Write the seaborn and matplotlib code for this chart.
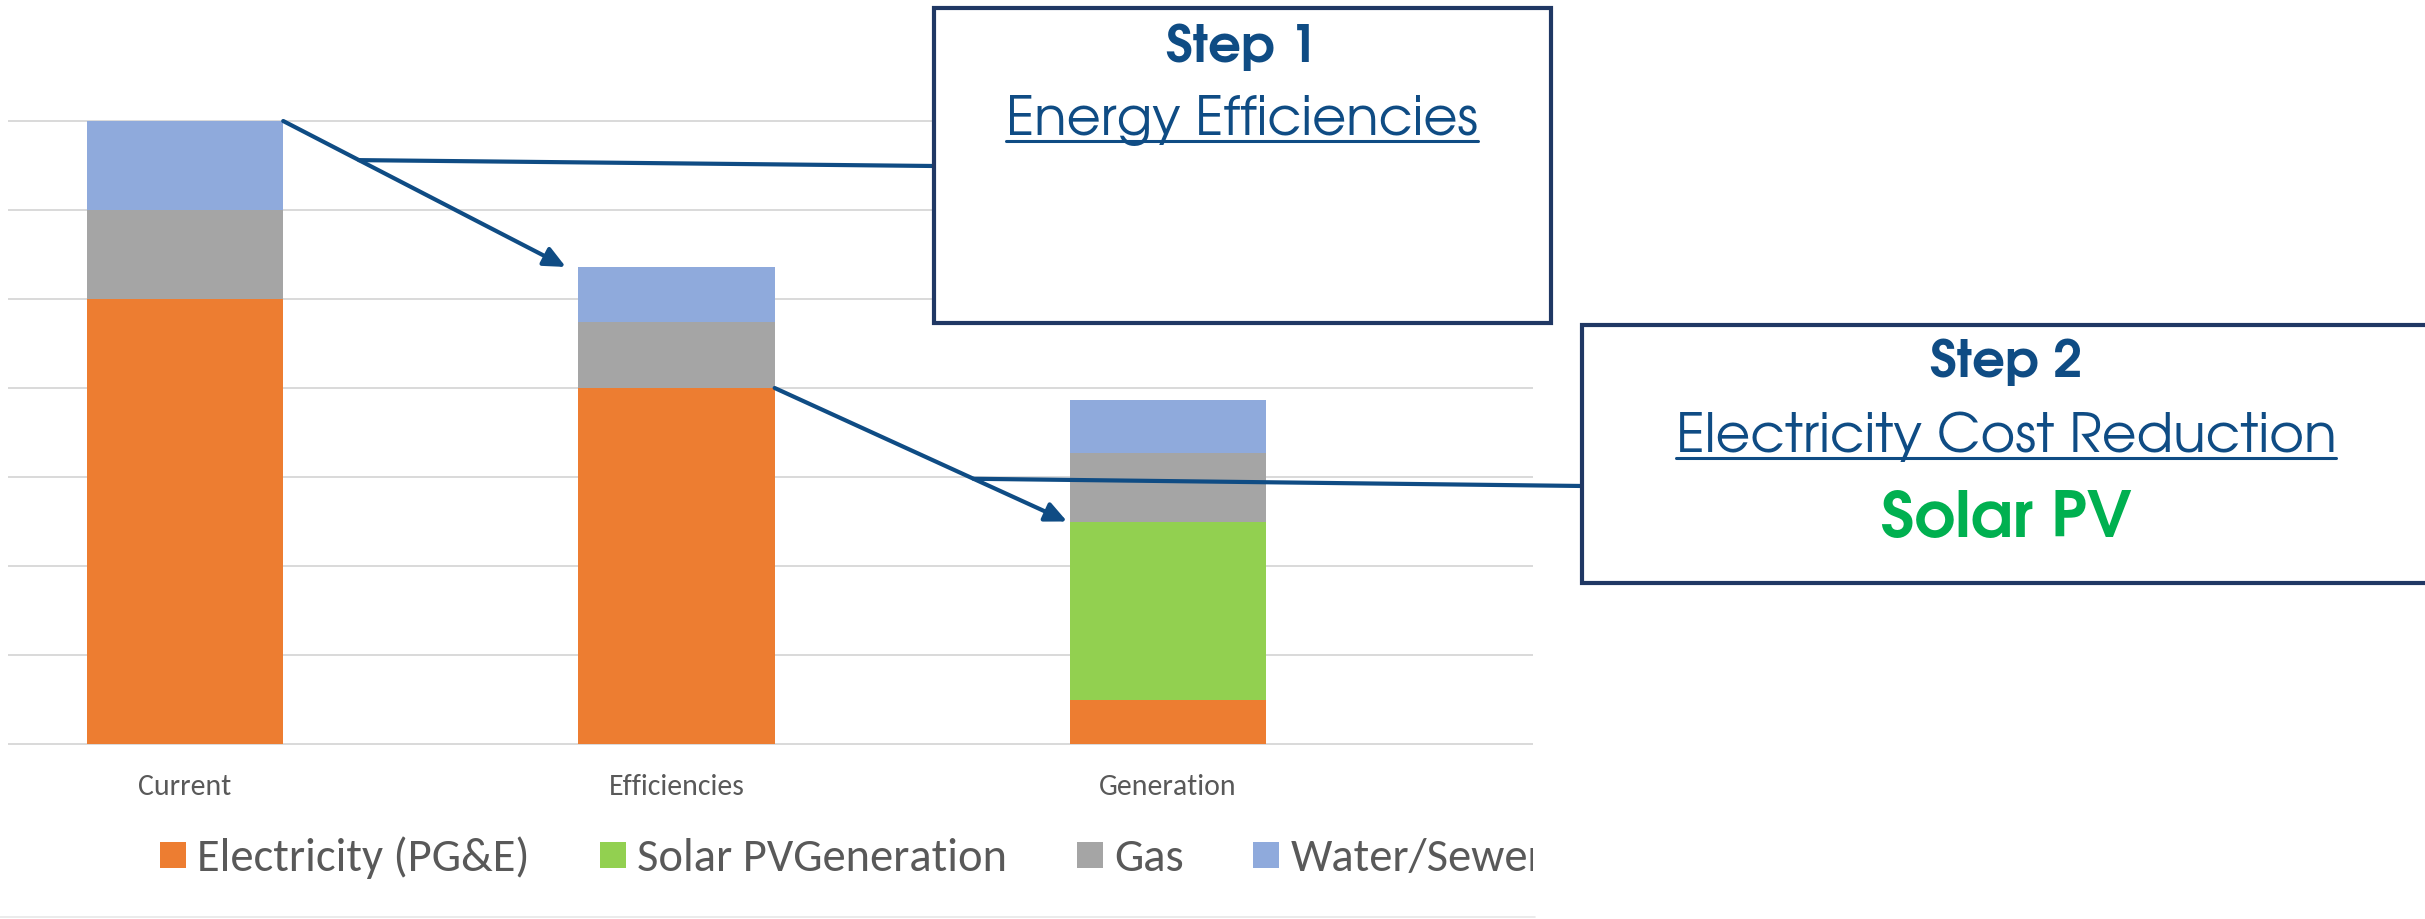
import numpy as np
import matplotlib
matplotlib.use("Agg")
import matplotlib.pyplot as plt
from matplotlib.patches import Rectangle
from matplotlib.lines import Line2D
from matplotlib.transforms import Bbox, TransformedBbox
import seaborn as sns

# data (one grid step = 1 unit)
categories = ["Current", "Efficiencies", "Generation"]
electricity = [5.0, 4.0, 0.5]
solar = [0.0, 0.0, 2.0]
gas = [1.0, 0.74, 0.77]
water = [1.0, 0.62, 0.59]

series_labels = ["Electricity (PG&E)", "Solar PVGeneration", "Gas", "Water/Sewer"]
series_colors = ["#ED7D31", "#92D050", "#A5A5A5", "#8FAADC"]

sns.set_theme(style="white")
plt.rcParams["font.family"] = ["Carlito", "DejaVu Sans"]

W, H = 2425, 919
navy = "#0F4C84"
box_edge = "#203864"
gothic = ["TeX Gyre Adventor", "DejaVu Sans"]


def fx(px):
    return px / W


def fy(py):
    return 1 - py / H


fig = plt.figure(figsize=(W / 100, H / 100), dpi=100)
ax = fig.add_axes([fx(8), fy(748.45), fx(1533) - fx(8), (748.45 - 100) / H])

# stacked bars, one seaborn call per series
bottom = np.zeros(len(categories))
for vals, lab, col in zip([electricity, solar, gas, water], series_labels, series_colors):
    sns.barplot(x=categories, y=vals, bottom=bottom, color=col, saturation=1,
                width=0.4, errorbar=None, linewidth=0, label=lab, ax=ax)
    bottom = bottom + np.array(vals)
totals = bottom

ax.set_xlim(-0.36, 2.743)
ax.set_ylim(-0.05, 7.236)
ax.set_yticks(range(0, 8))
ax.set_yticklabels([])
ax.yaxis.grid(True, color="#D9D9D9", linewidth=1.4)
ax.xaxis.grid(False)
ax.set_axisbelow(True)
sns.despine(ax=ax, left=True, bottom=True)
ax.tick_params(axis="y", length=0)
ax.tick_params(axis="x", length=0, pad=18.5, labelsize=21.5, labelcolor="#595959")
ax.set_xlabel("")
ax.set_ylabel("")

# legend under the chart, cut at the plot's right edge like the original
handles, labels = ax.get_legend_handles_labels()
leg = fig.legend(handles, labels, loc="center left", bbox_to_anchor=(fx(160), fy(858)),
                 ncol=4, frameon=False, fontsize=33.5, labelcolor="#595959",
                 handlelength=0.56, handleheight=0.483, handletextpad=0.24,
                 columnspacing=1.5, borderpad=0, borderaxespad=0)
clip = TransformedBbox(Bbox([[0, 0], [fx(1533), 1]]), fig.transFigure)
for t in leg.get_texts():
    t.set_clip_box(clip)
    t.set_clip_on(True)

fig.add_artist(Line2D([0, fx(1535)], [fy(917), fy(917)], color="#E8E8E8", lw=1.2))

# arrows between the bars
half = 0.2
a1_start = np.array([0 + half, totals[0]])
a1_end = np.array([1 - 0.225, totals[1]])
a2_start = np.array([1 + half, electricity[1]])
a2_end = np.array([2 - 0.205, electricity[2] + solar[2]])
arrow_kw = dict(arrowstyle="-|>,head_length=1.3,head_width=0.6", color=navy, lw=3.0,
                shrinkA=0, shrinkB=0, mutation_scale=10)
ax.annotate("", xy=a1_end, xytext=a1_start, arrowprops=arrow_kw, annotation_clip=False)
ax.annotate("", xy=a2_end, xytext=a2_start, arrowprops=arrow_kw, annotation_clip=False)

# connectors from the step boxes to the arrows
line_kw = dict(arrowstyle="-", color=navy, lw=3.0, shrinkA=0, shrinkB=0)
p1 = a1_start + 0.268 * (a1_end - a1_start)
p2 = a2_start + 0.68 * (a2_end - a2_start)
ax.annotate("", xy=p1, xytext=(fx(934), fy(166)), textcoords="figure fraction",
            arrowprops=line_kw, annotation_clip=False)
ax.annotate("", xy=p2, xytext=(fx(1583), fy(486)), textcoords="figure fraction",
            arrowprops=line_kw, annotation_clip=False)

# step boxes
fig.add_artist(Rectangle((fx(934), fy(323)), fx(1551) - fx(934), (323 - 8) / H,
                         transform=fig.transFigure, facecolor="white",
                         edgecolor=box_edge, lw=3, zorder=5))
fig.add_artist(Rectangle((fx(1582), fy(583)), fx(2450) - fx(1582), (583 - 325) / H,
                         transform=fig.transFigure, facecolor="white",
                         edgecolor=box_edge, lw=3, zorder=5))

fig.text(fx(1242), fy(62), "Step 1", ha="center", va="baseline", fontsize=37,
         fontweight="bold", family=gothic, color=navy, zorder=6)
t1 = fig.text(fx(1242), fy(135), "Energy Efficiencies", ha="center", va="baseline",
              fontsize=38, family=gothic, color=navy, zorder=6)
fig.text(fx(2006), fy(377), "Step 2", ha="center", va="baseline", fontsize=37,
         fontweight="bold", family=gothic, color=navy, zorder=6)
t2 = fig.text(fx(2006), fy(452), "Electricity Cost Reduction", ha="center", va="baseline",
              fontsize=38.5, family=gothic, color=navy, zorder=6)
fig.text(fx(2006), fy(537), "Solar PV", ha="center", va="baseline", fontsize=46,
         fontweight="bold", family=gothic, color="#00B050", zorder=6)

# underline the two subtitles
fig.canvas.draw()
renderer = fig.canvas.get_renderer()
for t, uy in [(t1, 141), (t2, 458)]:
    bb = t.get_window_extent(renderer)
    fig.add_artist(Line2D([bb.x0 / W, bb.x1 / W], [fy(uy), fy(uy)], color=navy, lw=2.2, zorder=6))

fig.savefig("out.png", dpi=100)
